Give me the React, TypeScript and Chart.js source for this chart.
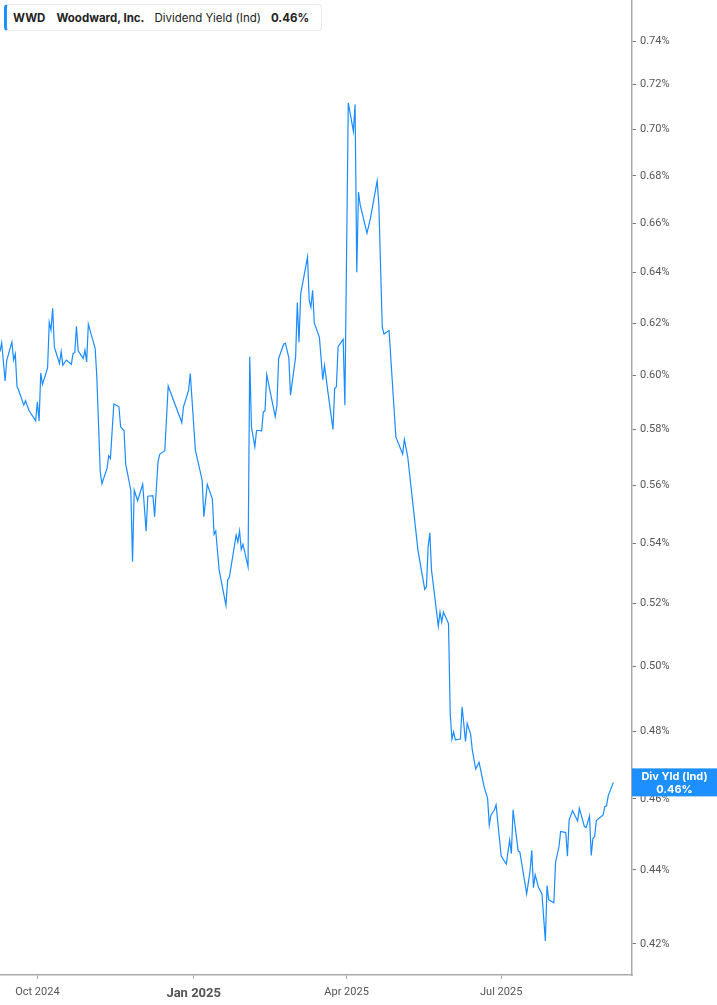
import { useEffect, useRef } from 'react'
import { Chart, registerables } from 'chart.js'

Chart.register(...registerables)

const ticker = 'WWD'
const companyName = 'Woodward, Inc.'
const metricName = 'Dividend Yield (Ind)'
const badgeTitle = 'Div Yld (Ind)'

// trading dates (approximate)
const dates = [
  '2024-09-09', '2024-09-10', '2024-09-12', '2024-09-13', '2024-09-16', '2024-09-17', '2024-09-18', '2024-09-19',
  '2024-09-20', '2024-09-23', '2024-09-24', '2024-09-26', '2024-09-27', '2024-09-30', '2024-10-01', '2024-10-02',
  '2024-10-03', '2024-10-04', '2024-10-07', '2024-10-08', '2024-10-09', '2024-10-10', '2024-10-11', '2024-10-14',
  '2024-10-15', '2024-10-16', '2024-10-18', '2024-10-21', '2024-10-22', '2024-10-23', '2024-10-24', '2024-10-25',
  '2024-10-28', '2024-10-29', '2024-10-30', '2024-10-31', '2024-11-04', '2024-11-05', '2024-11-07', '2024-11-08',
  '2024-11-11', '2024-11-12', '2024-11-13', '2024-11-15', '2024-11-18', '2024-11-19', '2024-11-21', '2024-11-22',
  '2024-11-25', '2024-11-26', '2024-11-27', '2024-11-29', '2024-12-02', '2024-12-04', '2024-12-05', '2024-12-08',
  '2024-12-09', '2024-12-11', '2024-12-12', '2024-12-15', '2024-12-17', '2024-12-25', '2024-12-26', '2024-12-29',
  '2024-12-30', '2025-01-02', '2025-01-06', '2025-01-07', '2025-01-09', '2025-01-12', '2025-01-13', '2025-01-14',
  '2025-01-16', '2025-01-20', '2025-01-21', '2025-01-22', '2025-01-26', '2025-01-27', '2025-01-28', '2025-01-29',
  '2025-01-30', '2025-02-02', '2025-02-03', '2025-02-04', '2025-02-06', '2025-02-07', '2025-02-09', '2025-02-10',
  '2025-02-11', '2025-02-12', '2025-02-13', '2025-02-18', '2025-02-19', '2025-02-20', '2025-02-23', '2025-02-24',
  '2025-02-26', '2025-02-27', '2025-03-02', '2025-03-03', '2025-03-04', '2025-03-05', '2025-03-09', '2025-03-10',
  '2025-03-11', '2025-03-12', '2025-03-13', '2025-03-16', '2025-03-18', '2025-03-19', '2025-03-21', '2025-03-24',
  '2025-03-25', '2025-03-26', '2025-03-27', '2025-03-30', '2025-03-31', '2025-04-02', '2025-04-05', '2025-04-06',
  '2025-04-07', '2025-04-08', '2025-04-09', '2025-04-13', '2025-04-15', '2025-04-19', '2025-04-20', '2025-04-22',
  '2025-04-23', '2025-04-26', '2025-04-30', '2025-05-04', '2025-05-05', '2025-05-07', '2025-05-10', '2025-05-13',
  '2025-05-17', '2025-05-18', '2025-05-19', '2025-05-20', '2025-05-21', '2025-05-25', '2025-05-26', '2025-05-27',
  '2025-05-28', '2025-05-31', '2025-06-01', '2025-06-02', '2025-06-03', '2025-06-04', '2025-06-07', '2025-06-08',
  '2025-06-10', '2025-06-11', '2025-06-13', '2025-06-14', '2025-06-16', '2025-06-18', '2025-06-21', '2025-06-23',
  '2025-06-24', '2025-06-25', '2025-06-27', '2025-06-28', '2025-07-01', '2025-07-04', '2025-07-06', '2025-07-07',
  '2025-07-08', '2025-07-11', '2025-07-12', '2025-07-16', '2025-07-18', '2025-07-19', '2025-07-20', '2025-07-21',
  '2025-07-23', '2025-07-25', '2025-07-27', '2025-07-28', '2025-07-29', '2025-08-01', '2025-08-02', '2025-08-04',
  '2025-08-05', '2025-08-08', '2025-08-09', '2025-08-10', '2025-08-12', '2025-08-15', '2025-08-16', '2025-08-19',
  '2025-08-20', '2025-08-22', '2025-08-23', '2025-08-24', '2025-08-25', '2025-08-26', '2025-08-30', '2025-08-31',
  '2025-09-01', '2025-09-02', '2025-09-05',
]

// dividend yield in percent
const yieldPct = [
  0.609, 0.6124, 0.5979, 0.6058, 0.6127, 0.6058, 0.6081, 0.5959,
  0.5944, 0.5889, 0.5905, 0.587, 0.586, 0.5831, 0.5901, 0.5831,
  0.6009, 0.5966, 0.6028, 0.6203, 0.6173, 0.6258, 0.6107, 0.6045,
  0.609, 0.6038, 0.6058, 0.6042, 0.6083, 0.6086, 0.6188, 0.6093,
  0.6064, 0.6096, 0.6051, 0.6196, 0.6103, 0.5994, 0.5648, 0.5606,
  0.566, 0.5705, 0.5695, 0.5893, 0.5883, 0.5809, 0.5796, 0.5675,
  0.5583, 0.5338, 0.5583, 0.5546, 0.5604, 0.5441, 0.5562, 0.5564,
  0.5491, 0.5683, 0.571, 0.5723, 0.596, 0.5825, 0.5883, 0.5944,
  0.6007, 0.5725, 0.5618, 0.5491, 0.5604, 0.5552, 0.5431, 0.5442,
  0.531, 0.5194, 0.5277, 0.5286, 0.5428, 0.5404, 0.5442, 0.5379,
  0.5397, 0.5321, 0.607, 0.5809, 0.5737, 0.5796, 0.5796, 0.5794,
  0.5864, 0.5868, 0.6003, 0.5846, 0.5889, 0.6064, 0.6119, 0.6122,
  0.6067, 0.5926, 0.607, 0.6281, 0.6126, 0.6316, 0.6462, 0.629,
  0.6262, 0.6329, 0.6201, 0.6145, 0.5984, 0.6038, 0.5938, 0.58,
  0.5951, 0.5957, 0.6109, 0.6137, 0.5889, 0.7119, 0.6993, 0.7111,
  0.6401, 0.6731, 0.6677, 0.656, 0.662, 0.6779, 0.6677, 0.6185,
  0.6158, 0.6171, 0.5773, 0.5711, 0.5764, 0.5701, 0.5537, 0.5377,
  0.5246, 0.5254, 0.5388, 0.5436, 0.531, 0.5126, 0.5172, 0.514,
  0.5172, 0.5135, 0.4854, 0.4776, 0.4798, 0.4774, 0.4776, 0.4874,
  0.4769, 0.4823, 0.4791, 0.4744, 0.4687, 0.4707, 0.4634, 0.4602,
  0.4525, 0.4554, 0.4569, 0.4583, 0.4438, 0.4416, 0.4483, 0.4445,
  0.4569, 0.4452, 0.4449, 0.4334, 0.4397, 0.4454, 0.4351, 0.4386,
  0.4351, 0.4334, 0.4208, 0.4357, 0.4318, 0.431, 0.4421, 0.4464,
  0.4507, 0.4504, 0.4438, 0.454, 0.4566, 0.4537, 0.4573, 0.4521,
  0.4518, 0.4551, 0.444, 0.4488, 0.4492, 0.4538, 0.4554, 0.4578,
  0.458, 0.4609, 0.4648,
]

const yTicks = [0.42, 0.44, 0.46, 0.48, 0.5, 0.52, 0.54, 0.56, 0.58, 0.6, 0.62, 0.64, 0.66, 0.68, 0.7, 0.72, 0.74]
const xTickDates = ['2024-10-01', '2025-01-01', '2025-04-01', '2025-07-01']
const xTickLabels = ['Oct 2024', 'Jan 2025', 'Apr 2025', 'Jul 2025']
const xRange = ['2024-09-09', '2025-09-16']
const yRange = [0.4119, 0.7593]

const toTime = (s: string) => Date.parse(s + 'T00:00:00Z')

const lastBadge = {
  id: 'lastBadge',
  afterDraw(chart: any) {
    const { ctx, chartArea, scales } = chart
    const v = yieldPct[yieldPct.length - 1]
    const y = scales.y.getPixelForValue(v)
    const x0 = chartArea.right
    const w = chart.width - x0
    ctx.save()
    ctx.fillStyle = '#1e8fff'
    ctx.fillRect(x0, y - 14, w, 28)
    ctx.fillStyle = '#ffffff'
    ctx.font = 'bold 11px Inter'
    ctx.textAlign = 'center'
    ctx.textBaseline = 'middle'
    ctx.fillText(badgeTitle, x0 + w / 2, y - 6)
    ctx.fillText(v.toFixed(2) + '%', x0 + w / 2, y + 7)
    ctx.restore()
  },
}

export default function App() {
  const chartRef = useRef<HTMLCanvasElement>(null)
  const chartInstance = useRef<Chart | null>(null)

  useEffect(() => {
    if (chartInstance.current) chartInstance.current.destroy()
    const ctx = chartRef.current!.getContext('2d')!
    chartInstance.current = new Chart(ctx, {
      type: 'line',
      data: {
        datasets: [
          {
            data: dates.map((d, i) => ({ x: toTime(d), y: yieldPct[i] })),
            borderColor: '#1a8cff',
            borderWidth: 1.2,
            pointRadius: 0,
            tension: 0,
          },
        ],
      },
      options: {
        animation: false,
        responsive: true,
        maintainAspectRatio: false,
        layout: { padding: 0 },
        plugins: {
          legend: { display: false },
          tooltip: { enabled: false },
        },
        scales: {
          x: {
            type: 'linear',
            min: toTime(xRange[0]),
            max: toTime(xRange[1]),
            afterBuildTicks: (s: any) => {
              s.ticks = xTickDates.map((d) => ({ value: toTime(d) }))
            },
            afterFit: (s: any) => {
              s.height = 30
              s.paddingLeft = 0
              s.paddingRight = 0
            },
            border: { display: true, color: '#aaaaaa', width: 1.5 },
            grid: { drawOnChartArea: false, drawTicks: true, tickLength: 4, color: '#aaaaaa' },
            ticks: {
              autoSkip: false,
              maxRotation: 0,
              padding: 7,
              color: '#555555',
              font: (c: any) =>
                c.index === 1
                  ? { family: 'Roboto', size: 13, weight: 'bold' }
                  : { family: 'Roboto', size: 11 },
              callback: (_v: any, i: number) => xTickLabels[i],
            },
          },
          y: {
            type: 'logarithmic',
            position: 'right',
            min: yRange[0],
            max: yRange[1],
            afterBuildTicks: (s: any) => {
              s.ticks = yTicks.map((v) => ({ value: v }))
            },
            afterFit: (s: any) => {
              s.width = 85
              s.paddingTop = 0
              s.paddingBottom = 0
            },
            border: { display: true, color: '#aaaaaa', width: 1.5 },
            grid: { drawOnChartArea: false, drawTicks: true, tickLength: 4, color: '#777777' },
            ticks: {
              autoSkip: false,
              padding: 4,
              color: '#555555',
              font: { family: 'Roboto', size: 11 },
              callback: (v: any) => Number(v).toFixed(2) + '%',
            },
          },
        },
      },
      plugins: [lastBadge],
    } as any)

    return () => {
      if (chartInstance.current) {
        chartInstance.current.destroy()
        chartInstance.current = null
      }
    }
  }, [])

  return (
    <div
      style={{
        position: 'fixed',
        left: 0,
        top: 0,
        width: 717,
        height: 1005,
        background: '#ffffff',
      }}
    >
      <canvas ref={chartRef} />
      <div
        style={{
          position: 'absolute',
          left: 4,
          top: 4,
          height: 25,
          padding: '0 12px 0 6px',
          display: 'flex',
          alignItems: 'center',
          border: '1px solid #e8e8e8',
          borderLeft: '3px solid #1e8fff',
          borderRadius: 4,
          background: '#ffffff',
          fontFamily: 'Inter',
          fontSize: 11.5,
          color: '#222222',
          whiteSpace: 'nowrap',
        }}
      >
        <span style={{ fontWeight: 700, marginRight: 11 }}>{ticker}</span>
        <span style={{ fontWeight: 700, marginRight: 10 }}>{companyName}</span>
        <span style={{ marginRight: 10 }}>{metricName}</span>
        <span style={{ fontWeight: 700 }}>{yieldPct[yieldPct.length - 1].toFixed(2)}%</span>
      </div>
    </div>
  )
}
